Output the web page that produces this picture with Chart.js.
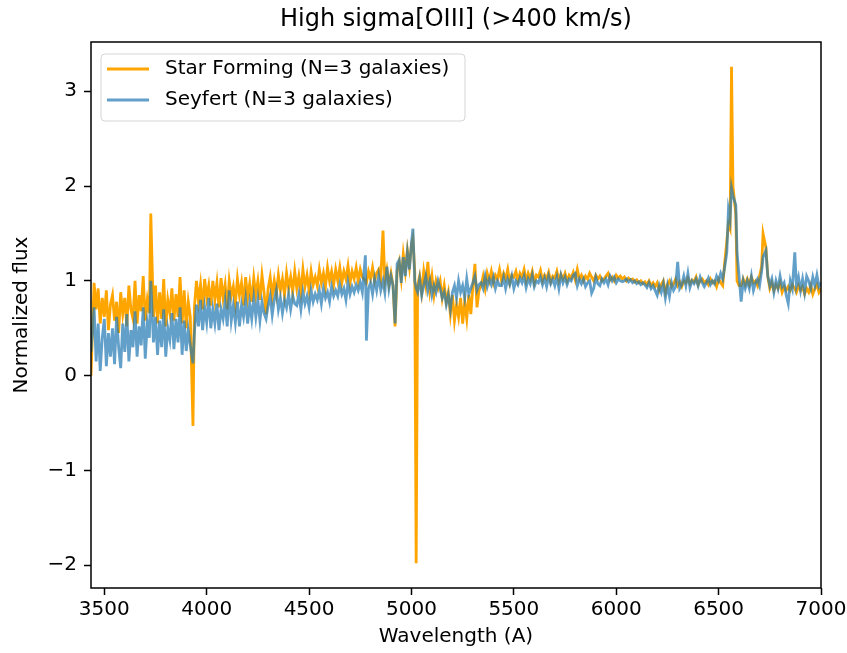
<!DOCTYPE html>
<html>
<head>
<meta charset="utf-8">
<script src="https://cdn.jsdelivr.net/npm/chart.js@4.4.0/dist/chart.umd.min.js"></script>
<style>
  html, body { margin: 0; padding: 0; background: #fff; }
  canvas { display: block; }
</style>
</head>
<body>
<canvas id="chart" width="847" height="653"></canvas>
<script>
// wavelength grid (A), with extra points on the lines
const wavelengths = [
  3435, 3450, 3460, 3470, 3480, 3490, 3500, 3510, 3520, 3530,
  3540, 3550, 3560, 3570, 3580, 3590, 3600, 3610, 3620, 3630,
  3640, 3650, 3660, 3670, 3680, 3690, 3700, 3710, 3720, 3727,
  3740, 3750, 3760, 3770, 3780, 3790, 3800, 3810, 3820, 3830,
  3840, 3850, 3860, 3870, 3880, 3890, 3900, 3910, 3920, 3933,
  3940, 3950, 3960, 3970, 3980, 3990, 4000, 4010, 4020, 4030,
  4040, 4050, 4060, 4070, 4080, 4090, 4100, 4110, 4120, 4130,
  4140, 4150, 4160, 4170, 4180, 4190, 4200, 4210, 4220, 4230,
  4240, 4250, 4260, 4270, 4280, 4290, 4300, 4310, 4320, 4330,
  4340, 4350, 4360, 4370, 4380, 4390, 4400, 4410, 4420, 4430,
  4440, 4450, 4460, 4470, 4480, 4490, 4500, 4510, 4520, 4530,
  4540, 4550, 4560, 4570, 4580, 4590, 4600, 4610, 4620, 4630,
  4640, 4650, 4660, 4670, 4680, 4690, 4700, 4710, 4720, 4730,
  4740, 4750, 4760, 4775, 4780, 4790, 4800, 4810, 4820, 4830,
  4840, 4850, 4861, 4870, 4880, 4890, 4900, 4910, 4920, 4930,
  4940, 4950, 4960, 4970, 4980, 4990, 5000, 5007, 5016, 5023, 5030,
  5040, 5050, 5060, 5070, 5080, 5090, 5100, 5110, 5120, 5130,
  5140, 5150, 5160, 5170, 5180, 5190, 5200, 5210, 5220, 5230,
  5240, 5250, 5260, 5270, 5280, 5290, 5300, 5310, 5320, 5330,
  5340, 5350, 5360, 5370, 5380, 5390, 5400, 5410, 5420, 5430,
  5440, 5450, 5460, 5470, 5480, 5490, 5500, 5510, 5520, 5530,
  5540, 5550, 5560, 5570, 5580, 5590, 5600, 5610, 5620, 5630,
  5640, 5650, 5660, 5670, 5680, 5690, 5700, 5710, 5720, 5730,
  5740, 5750, 5760, 5770, 5780, 5790, 5800, 5810, 5820, 5830,
  5840, 5850, 5860, 5870, 5880, 5890, 5900, 5910, 5920, 5930,
  5940, 5950, 5960, 5970, 5980, 5990, 6000, 6010, 6020, 6030,
  6040, 6050, 6060, 6070, 6080, 6090, 6100, 6110, 6120, 6130,
  6140, 6150, 6160, 6170, 6180, 6190, 6200, 6210, 6220, 6230,
  6240, 6250, 6260, 6270, 6280, 6290, 6300, 6310, 6320, 6330,
  6340, 6350, 6360, 6370, 6380, 6390, 6400, 6410, 6420, 6430,
  6440, 6450, 6460, 6470, 6480, 6490, 6500, 6510, 6520, 6530,
  6540, 6548, 6556, 6563, 6570, 6584, 6590, 6600, 6610, 6620, 6630,
  6640, 6650, 6660, 6670, 6680, 6690, 6700, 6710, 6717, 6731,
  6740, 6750, 6760, 6770, 6780, 6790, 6800, 6810, 6820, 6830,
  6840, 6850, 6860, 6872, 6880, 6890, 6900, 6910, 6920, 6930,
  6940, 6950, 6960, 6970, 6980, 6990, 7000
];

const starForming = [
  0.00, 0.98, 0.70, 0.92, 0.55, 0.82, 0.62, 0.90, 0.48, 0.75,
  0.85, 0.58, 0.78, 0.45, 0.88, 0.65, 0.82, 0.52, 0.95, 0.70,
  0.60, 1.00, 0.55, 0.85, 0.68, 1.05, 0.58, 0.80, 0.66, 1.71,
  0.62, 0.95, 0.55, 0.88, 0.60, 1.02, 0.52, 0.80, 0.66, 0.92,
  0.58, 0.86, 0.62, 1.04, 0.55, 0.90, 0.50, 0.78, 0.62, -0.53,
  0.72, 1.00, 0.78, 0.96, 0.70, 1.02, 0.82, 0.95, 0.74, 1.00,
  0.80, 0.98, 0.72, 1.03, 0.82, 0.96, 0.70, 1.00, 0.84, 0.94,
  0.76, 1.02, 0.85, 0.98, 0.74, 1.04, 0.82, 0.97, 0.78, 1.03,
  0.85, 1.00, 0.80, 1.06, 0.88, 0.65, 0.92, 1.04, 0.84, 1.00,
  0.86, 1.06, 0.90, 1.02, 0.85, 1.08, 0.92, 1.04, 0.88, 1.10,
  0.92, 1.05, 0.88, 1.12, 0.94, 1.06, 0.90, 1.10, 0.96, 1.04,
  0.95, 1.12, 0.98, 1.08, 0.94, 1.14, 1.00, 1.10, 0.96, 1.12,
  1.00, 1.14, 0.98, 1.10, 1.02, 1.16, 0.98, 1.10, 1.02, 1.14,
  1.00, 1.12, 1.04, 1.00, 0.98, 1.10, 1.02, 1.14, 1.00, 1.08,
  1.12, 1.02, 1.53, 1.00, 1.12, 0.96, 1.08, 0.95, 0.52, 1.10,
  1.20, 1.02, 1.28, 1.10, 1.32, 1.15, 1.38, 1.45, 1.10, -1.98, 0.95,
  1.05, 0.88, 1.10, 0.95, 1.20, 0.90, 1.05, 0.85, 1.00, 0.92,
  1.00, 0.82, 0.95, 0.78, 0.88, 0.65, 0.85, 0.58, 0.75, 0.62,
  0.82, 0.55, 0.78, 0.60, 0.85, 0.65, 0.95, 1.18, 0.72, 0.90,
  0.95, 1.05, 0.92, 1.08, 1.00, 1.10, 0.98, 1.06, 1.02, 1.12,
  1.00, 1.08, 1.02, 1.12, 0.98, 1.06, 1.04, 1.10, 1.00, 1.08,
  1.04, 1.12, 1.00, 1.08, 1.02, 1.10, 0.98, 1.06, 1.04, 1.11,
  1.00, 1.06, 1.02, 1.09, 0.99, 1.05, 1.03, 1.10, 1.00, 1.07,
  1.02, 1.08, 1.00, 1.06, 1.03, 1.09, 1.01, 1.12, 1.02, 1.06,
  1.00, 1.05, 1.02, 1.08, 1.04, 1.00, 1.06, 1.02, 1.05, 1.00,
  1.02, 1.05, 1.08, 1.01, 1.04, 1.00, 1.06, 1.03, 1.05, 1.02,
  1.04, 1.00, 1.03, 1.01, 1.02, 0.99, 1.01, 0.98, 1.00, 0.97,
  0.99, 0.96, 1.00, 0.95, 0.98, 0.94, 0.98, 0.90, 0.96, 1.00,
  0.88, 0.96, 1.00, 0.94, 0.97, 1.02, 0.95, 0.99, 0.94, 1.00,
  0.98, 1.03, 0.97, 1.01, 0.99, 1.04, 0.96, 1.00, 1.02, 0.98,
  1.00, 0.96, 1.02, 0.98, 1.00, 0.94, 1.02, 0.98, 0.95, 1.20,
  1.42, 1.60, 1.55, 3.26, 2.00, 1.70, 1.00, 0.95, 0.95, 1.02, 0.96,
  1.02, 0.96, 1.04, 0.98, 1.00, 0.95, 1.05, 1.15, 1.50, 1.35,
  1.05, 0.92, 0.98, 0.90, 0.96, 0.92, 0.98, 0.88, 0.94, 0.90,
  0.94, 0.90, 0.96, 0.92, 0.88, 0.95, 0.90, 0.94, 0.86, 0.92,
  0.88, 0.95, 0.86, 0.92, 0.96, 0.88, 0.92
];

const seyfert = [
  0.25, 0.72, 0.15, 0.55, 0.05, 0.40, 0.60, 0.10, 0.45, 0.20,
  0.50, 0.12, 0.62, 0.30, 0.08, 0.55, 0.25, 0.65, 0.15, 0.48,
  0.30, 0.68, 0.20, 0.52, 0.32, 0.72, 0.18, 0.55, 0.40, 1.00,
  0.35, 0.62, 0.22, 0.58, 0.30, 0.70, 0.20, 0.50, 0.38, 0.66,
  0.28, 0.60, 0.35, 0.72, 0.22, 0.58, 0.26, 0.48, 0.32, 0.13,
  0.45, 0.75, 0.52, 0.80, 0.48, 0.72, 0.56, 0.82, 0.50, 0.70,
  0.55, 0.76, 0.48, 0.70, 0.60, 0.78, 0.52, 0.90, 0.58, 0.74,
  0.56, 0.78, 0.52, 0.74, 0.62, 0.80, 0.55, 0.76, 0.60, 0.82,
  0.62, 0.80, 0.58, 0.78, 0.66, 0.60, 0.74, 0.84, 0.64, 0.80,
  0.90, 0.70, 0.82, 0.66, 0.80, 0.72, 0.86, 0.70, 0.84, 0.76,
  0.74, 0.86, 0.70, 0.88, 0.76, 0.84, 0.72, 0.90, 0.78, 0.86,
  0.80, 0.90, 0.76, 0.92, 0.82, 0.88, 0.78, 0.94, 0.84, 0.90,
  0.84, 0.96, 0.86, 0.92, 0.80, 0.98, 0.86, 0.94, 0.88, 0.96,
  0.90, 0.98, 0.88, 1.27, 0.37, 0.92, 0.98, 0.86, 1.02, 0.90,
  1.05, 0.90, 1.00, 0.88, 1.15, 0.92, 1.05, 0.95, 0.55, 1.18,
  1.22, 0.98, 1.25, 1.05, 1.30, 1.12, 1.40, 1.55, 1.00, 0.92, 0.88,
  1.02, 0.85, 0.95, 1.05, 0.90, 1.00, 0.85, 0.95, 0.88, 1.00,
  0.92, 0.82, 0.88, 0.75, 0.85, 0.70, 0.88, 0.95, 0.82, 1.00,
  0.88, 0.95, 0.82, 1.02, 0.86, 0.92, 0.98, 1.05, 0.90, 0.96,
  0.98, 0.92, 1.05, 0.94, 1.02, 0.96, 1.04, 0.92, 1.00, 0.95,
  0.95, 1.04, 0.92, 1.02, 0.96, 1.05, 0.92, 1.00, 0.96, 1.03,
  0.98, 1.05, 0.93, 1.02, 0.97, 1.06, 0.94, 1.00, 0.98, 1.04,
  0.96, 1.03, 0.94, 1.05, 0.97, 1.02, 0.95, 1.04, 0.92, 1.06,
  0.98, 1.04, 0.96, 1.02, 1.00, 1.06, 1.08, 0.95, 1.02, 0.97,
  1.02, 0.94, 0.98, 1.00, 0.87, 0.92, 1.04, 0.97, 0.95, 1.02,
  0.98, 1.02, 0.96, 1.05, 1.00, 1.04, 0.98, 1.02, 1.00, 0.99,
  1.00, 1.02, 0.99, 1.01, 0.98, 1.00, 0.97, 0.99, 0.96, 0.98,
  0.96, 0.93, 0.98, 0.92, 0.95, 0.90, 0.85, 0.95, 0.88, 0.97,
  0.82, 0.95, 0.84, 0.98, 0.90, 0.94, 1.20, 0.92, 0.96, 1.05,
  0.95, 1.08, 0.93, 1.00, 0.97, 1.02, 0.95, 1.04, 0.98, 0.94,
  0.98, 1.03, 0.96, 1.00, 0.97, 1.05, 1.00, 1.08, 1.02, 1.15,
  1.30, 1.75, 1.65, 1.98, 1.90, 1.80, 1.30, 1.05, 0.78, 1.00, 0.92,
  1.00, 0.92, 1.05, 0.90, 0.98, 1.02, 0.95, 1.10, 1.25, 1.32,
  1.05, 0.95, 1.02, 0.88, 1.00, 0.92, 1.05, 0.94, 0.98, 0.85,
  0.76, 1.00, 0.92, 1.30, 0.95, 1.04, 0.90, 1.02, 0.88, 1.05,
  1.00, 0.92, 1.04, 0.95, 1.06, 0.94, 0.98
];

const xTicks = [3500, 4000, 4500, 5000, 5500, 6000, 6500, 7000];
const yTicks = [-2, -1, 0, 1, 2, 3];

const FONT = "'DejaVu Sans', sans-serif";
Chart.defaults.font.family = FONT;
Chart.defaults.color = "#000";

const LINE_W = 2.8;

function toPoints(ys) {
  return wavelengths.map((w, i) => ({ x: w, y: ys[i] }));
}

// title, frame and boxed legend the way matplotlib draws them
const mplDecor = {
  id: "mplDecor",
  afterDatasetsDraw(chart) {
    const { ctx, chartArea: a } = chart;
    ctx.save();
    ctx.strokeStyle = "#000";
    ctx.lineWidth = 1.5;
    ctx.strokeRect(a.left, a.top, a.right - a.left, a.bottom - a.top);

    ctx.font = "24px " + FONT;
    ctx.fillStyle = "#000";
    ctx.textAlign = "center";
    ctx.textBaseline = "middle";
    ctx.fillText("High sigma[OIII] (>400 km/s)", (a.left + a.right) / 2, 20);

    // legend box
    ctx.beginPath();
    ctx.roundRect(101, 54, 364, 67, 4);
    ctx.fillStyle = "rgba(255,255,255,0.8)";
    ctx.fill();
    ctx.strokeStyle = "#d5d5d5";
    ctx.lineWidth = 1;
    ctx.stroke();

    ctx.font = "20px " + FONT;
    ctx.textAlign = "left";
    chart.data.datasets.forEach((ds, i) => {
      const y = 69 + i * 31;
      ctx.strokeStyle = ds.borderColor;
      ctx.lineWidth = LINE_W;
      ctx.beginPath();
      ctx.moveTo(107, y);
      ctx.lineTo(149, y);
      ctx.stroke();
      ctx.fillStyle = "#000";
      ctx.fillText(ds.label, 165, y);
    });
    ctx.restore();
  },
};

new Chart(document.getElementById("chart"), {
  type: "line",
  data: {
    datasets: [
      {
        label: "Star Forming (N=3 galaxies)",
        data: toPoints(starForming),
        borderColor: "#ffa500",
        borderWidth: LINE_W,
        pointRadius: 0,
        tension: 0,
        order: 2,
      },
      {
        label: "Seyfert (N=3 galaxies)",
        data: toPoints(seyfert),
        borderColor: "rgba(31,119,180,0.7)",
        borderWidth: LINE_W,
        pointRadius: 0,
        tension: 0,
        order: 1,
      },
    ],
  },
  options: {
    responsive: false,
    animation: false,
    devicePixelRatio: 1,
    layout: { padding: { top: 42, right: 26, left: 0, bottom: 0 } },
    plugins: {
      legend: { display: false },
      title: { display: false },
      tooltip: { enabled: false },
    },
    scales: {
      x: {
        type: "linear",
        min: 3435,
        max: 7000,
        afterBuildTicks: (s) => { s.ticks = xTicks.map((v) => ({ value: v })); },
        afterFit: (s) => { s.height = 65; s.paddingLeft = 0; s.paddingRight = 0; },
        ticks: { font: { size: 20 }, padding: 3, maxRotation: 0, autoSkip: false, callback: (v) => String(v) },
        grid: { drawOnChartArea: false, tickLength: 7, tickWidth: 1.5, tickColor: "#000" },
        border: { display: false },
        title: { display: true, text: "Wavelength (A)", font: { size: 20 }, padding: { top: 0, bottom: 4 } },
      },
      y: {
        min: -2.24,
        max: 3.52,
        afterBuildTicks: (s) => { s.ticks = yTicks.map((v) => ({ value: v })); },
        afterFit: (s) => { s.width = 91; s.paddingTop = 0; s.paddingBottom = 0; },
        ticks: {
          font: { size: 20 },
          padding: 7,
          callback: (v) => (v < 0 ? "\u2212" + Math.abs(v) : String(v)),
        },
        grid: { drawOnChartArea: false, tickLength: 7, tickWidth: 1.5, tickColor: "#000" },
        border: { display: false },
        title: { display: true, text: "Normalized flux", font: { size: 20 }, padding: { top: 10, bottom: 0 } },
      },
    },
  },
  plugins: [mplDecor],
});
</script>
</body>
</html>
